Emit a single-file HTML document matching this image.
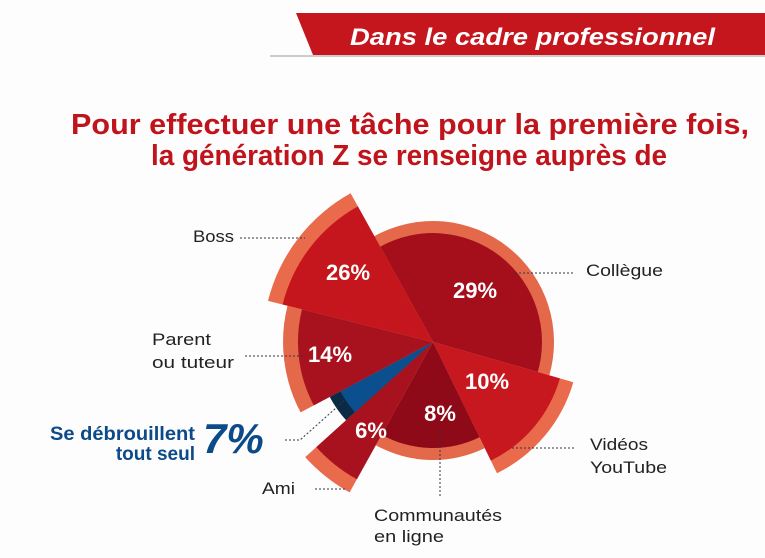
<!DOCTYPE html>
<html><head><meta charset="utf-8"><style>
html,body{margin:0;padding:0;background:#fff;}
svg{display:block;font-family:"Liberation Sans",sans-serif;}
</style></head><body>
<svg id="s" width="765" height="558" viewBox="0 0 765 558">
<rect width="765" height="558" fill="#fdfdfd"/>
<line x1="270" y1="56" x2="765" y2="56" stroke="#ccc" stroke-width="2"/>
<polygon points="296,13 765,13 765,55 313,55" fill="#c5161e"/>
<text x="350" y="45" textLength="365" lengthAdjust="spacingAndGlyphs" font-size="24" font-weight="bold" font-style="italic" fill="#fff">Dans le cadre professionnel</text>
<text x="71" y="134" textLength="678" lengthAdjust="spacingAndGlyphs" font-size="29" font-weight="bold" fill="#c0141c">Pour effectuer une tâche pour la première fois,</text>
<text x="151" y="165" textLength="516" lengthAdjust="spacingAndGlyphs" font-size="29" font-weight="bold" fill="#c0141c">la génération Z se renseigne auprès de</text>
<g id="pie"></g>
<g fill="#fff" font-weight="bold" font-size="22" text-anchor="middle">
<text x="348" y="280">26%</text><text x="475" y="298">29%</text><text x="330" y="362">14%</text>
<text x="487" y="389">10%</text><text x="440" y="421">8%</text><text x="371" y="438">6%</text>
</g>
<g stroke="#334" stroke-width="1" stroke-dasharray="2,2" fill="none">
<line x1="240" y1="238" x2="305" y2="238"/><line x1="515" y1="273" x2="575" y2="273"/>
<line x1="245" y1="356" x2="305" y2="356"/><polyline points="285,440 300,440 345,400"/>
<line x1="512" y1="448" x2="575" y2="448"/><line x1="315" y1="489" x2="345" y2="489"/>
<line x1="440" y1="430" x2="440" y2="497"/>
</g>
<g fill="#222" font-size="17">
<text x="193" y="242" textLength="41" lengthAdjust="spacingAndGlyphs">Boss</text>
<text x="586" y="276" textLength="77" lengthAdjust="spacingAndGlyphs">Collègue</text>
<text x="152" y="345" textLength="59" lengthAdjust="spacingAndGlyphs">Parent</text>
<text x="152" y="368" textLength="82" lengthAdjust="spacingAndGlyphs">ou tuteur</text>
<text x="590" y="450" textLength="58" lengthAdjust="spacingAndGlyphs">Vidéos</text>
<text x="590" y="473" textLength="77" lengthAdjust="spacingAndGlyphs">YouTube</text>
<text x="262" y="494" textLength="33" lengthAdjust="spacingAndGlyphs">Ami</text>
<text x="374" y="521" textLength="128" lengthAdjust="spacingAndGlyphs">Communautés</text>
<text x="374" y="542" textLength="70" lengthAdjust="spacingAndGlyphs">en ligne</text>
</g>
<g fill="#0c4a8a" font-weight="bold">
<text x="50" y="440" textLength="145" lengthAdjust="spacingAndGlyphs" font-size="19">Se débrouillent</text>
<text x="195" y="460" text-anchor="end" font-size="19">tout seul</text>
<text x="203" y="453" font-size="42" font-style="italic">7%</text>
</g>
</svg>
<script>
var cx=433,cy=342,g=document.getElementById('pie');
function p(a,r){a=a*Math.PI/180;return (cx+r*Math.cos(a)).toFixed(1)+','+(cy+r*Math.sin(a)).toFixed(1);}
function w(a1,a2,r,fill){var l=(a2-a1)>180?1:0;
 var e=document.createElementNS('http://www.w3.org/2000/svg','path');
 e.setAttribute('d','M'+cx+','+cy+' L'+p(a1,r)+' A'+r+','+r+' 0 '+l+' 1 '+p(a2,r)+' Z');
 e.setAttribute('fill',fill);g.appendChild(e);}
var S=[[241,376,121,12,'#a50f1c','#e4684a'],[16,64,146,14,'#c8181f','#ea6a4c'],[64,119,118,12,'#8e0a18','#e4684a'],
[119,138,172,15,'#a8121e','#ea6a4c'],[138,152,117,12,'#0b4f8f','#0c2a45'],[152,194,150,15,'#a8121e','#e4684a'],[194,241,170,15,'#c4161c','#ea6a4c']];
S.forEach(function(s){w(s[0],s[1],s[2],s[5]);w(s[0],s[1],s[2]-s[3],s[4]);});
</script>
</body></html>
